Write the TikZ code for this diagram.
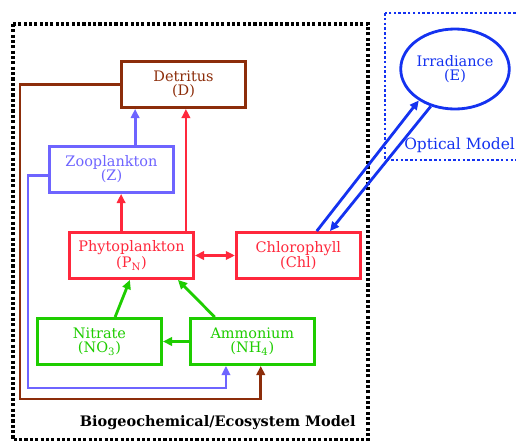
\documentclass[tikz,border=0pt]{standalone}
\usepackage{fontspec}
\setmainfont{DejaVu Serif}
\usetikzlibrary{arrows.meta,shapes.geometric,calc,positioning}

\definecolor{detbrown}{RGB}{140,45,10}
\definecolor{zoopurple}{RGB}{110,100,255}
\definecolor{phytored}{RGB}{255,40,60}
\definecolor{nutgreen}{RGB}{30,205,0}
\definecolor{optblue}{RGB}{20,50,240}

\tikzset{
    pool/.style={draw, line width=2pt, minimum width=3.1cm, minimum height=1.15cm,
        inner sep=1pt, align=center, font=\fontsize{10.3}{10}\selectfont},
    flow/.style={-{Triangle[length=6.5pt,width=6pt]}, line width=2pt},
    modelbox/.style={line width=2.4pt, dash pattern=on 2.2pt off 1.6pt},
}

\begin{document}
\begin{tikzpicture}[x=0.025cm, y=-0.025cm]
    \useasboundingbox (0,0) rectangle (516,441);

    \draw[modelbox] (13,24) rectangle (368,440);
    \draw[modelbox, optblue, line width=2pt, dash pattern=on 1.8pt off 1.6pt] (385,13) rectangle (540,160);

    \node[pool, detbrown] (det) at (183.5,84.5) {Detritus\\(D)};
    \node[pool, zoopurple] (zoo) at (111.5,169.5) {Zooplankton\\(Z)};
    \node[pool, phytored] (phyto) at (131.5,255.5) {Phytoplankton\\(P\textsubscript{N})};
    \node[pool, phytored, right = 1cm of phyto] (chl) {Chlorophyll\\(Chl)};
    \node[pool, nutgreen] (nit) at (99.5,341.5) {Nitrate\\(NO\textsubscript{3})};
    \node[pool, nutgreen, right = 0.65cm of nit] (amm) {Ammonium\\(NH\textsubscript{4})};
    \node[draw, optblue, ellipse, line width=2pt, minimum width=2.45cm, minimum height=2cm,
        inner sep=0pt, align=center, font=\fontsize{10.3}{10}\selectfont] (irr) at (455,69) {Irradiance\\(E)};

    \node[optblue, anchor=west, inner sep=0pt, font=\fontsize{11}{12}\selectfont] (optlbl) at (404,145) {Optical Model};
    \node[anchor=east, inner sep=0pt, font=\fontsize{10.3}{12}\selectfont\bfseries] (ecolbl) at (356,423) {Biogeochemical/Ecosystem Model};

    \coordinate (zoocorner) at (28,388);
    \coordinate (detcorner) at (20,399);

    \draw[flow, zoopurple] ([xshift=0.59cm]zoo.north) -- ([xshift=0.59cm]zoo.north |- det.south);
    \draw[flow, phytored] ([xshift=-0.26cm]phyto.north) -- ([xshift=-0.26cm]phyto.north |- zoo.south);
    \draw[flow, phytored] ([xshift=1.36cm]phyto.north) -- ([xshift=1.36cm]phyto.north |- det.south);
    \draw[flow, phytored, {Triangle[length=6.5pt,width=6pt]}-{Triangle[length=6.5pt,width=6pt]}] (phyto.east |- chl.west) -- (chl.west);

    \draw[flow, nutgreen] ([xshift=0.39cm]nit.north) -- ([xshift=-0.04cm]phyto.south);
    \draw[flow, nutgreen] ([xshift=-0.94cm]amm.north) -- ([xshift=1.16cm]phyto.south);
    \draw[flow, nutgreen] (amm.west) -- (nit.east);

    \draw[flow, zoopurple] ([yshift=-0.14cm]zoo.west) -| (zoocorner) -| ([xshift=-0.66cm]amm.south);
    \draw[flow, detbrown] (det.west) -| (detcorner) -| ([xshift=0.21cm]amm.south);

    \draw[flow, optblue] ([xshift=0.46cm]chl.north) -- (irr.221);
    \draw[flow, optblue] (irr.237) -- ([xshift=0.79cm]chl.north);
\end{tikzpicture}
\end{document}
